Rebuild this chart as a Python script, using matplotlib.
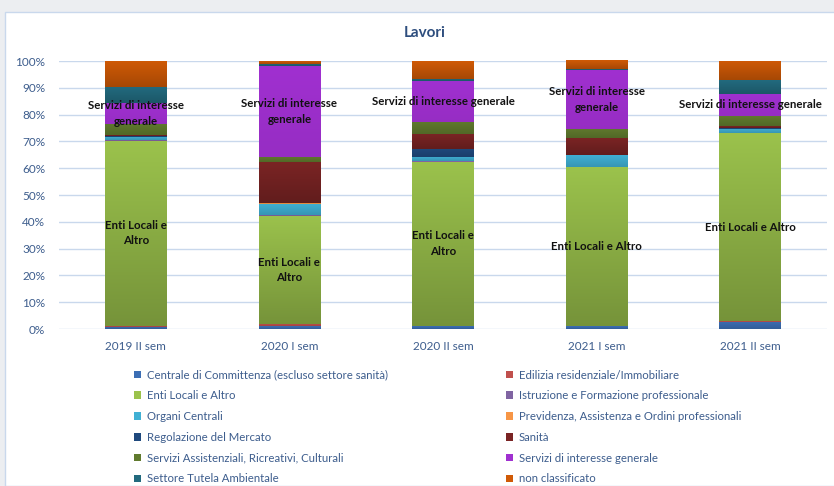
import numpy as np
import matplotlib
matplotlib.use("Agg")
import matplotlib.pyplot as plt
from matplotlib.patches import Patch, Rectangle
from matplotlib.colors import to_rgb

plt.rcParams["font.family"] = ["Lato", "DejaVu Sans"]

periods = ["2019 II sem", "2020 I sem", "2020 II sem", "2021 I sem", "2021 II sem"]

series = [
    "Centrale di Committenza (escluso settore sanità)",
    "Edilizia residenziale/Immobiliare",
    "Enti Locali e Altro",
    "Istruzione e Formazione professionale",
    "Organi Centrali",
    "Previdenza, Assistenza e Ordini professionali",
    "Regolazione del Mercato",
    "Sanità",
    "Servizi Assistenziali, Ricreativi, Culturali",
    "Servizi di interesse generale",
    "Settore Tutela Ambientale",
    "non classificato",
]

# share (%) of each sector per semester
centrale = [0.8, 1.1, 1.1, 1.0, 2.7]
edilizia = [0.5, 0.8, 0.1, 0.1, 0.1]
enti = [69.0, 40.4, 61.3, 59.3, 70.3]
istruzione = [0.1, 0.1, 0.1, 0.1, 0.1]
organi = [1.3, 4.4, 1.5, 4.3, 1.5]
previdenza = [0.1, 0.1, 0.1, 0.1, 0.1]
regolazione = [0.4, 0.1, 3.1, 0.1, 0.3]
sanita = [0.1, 15.2, 5.4, 6.3, 0.7]
serv_assist = [4.3, 2.0, 4.6, 3.4, 3.6]
serv_interesse = [7.8, 33.9, 15.2, 21.8, 8.4]
tutela = [5.8, 0.9, 0.9, 0.5, 5.0]
non_class = [9.8, 1.0, 6.6, 3.3, 7.2]

colors = [
    "#3C6EB4", "#C0504D", "#9BC24C", "#8064A2", "#40B0D4", "#F79646",
    "#1F497D", "#7A2424", "#607A2E", "#A030D0", "#226A7E", "#D05A06",
]
# how much darker the bottom of each segment gets
darken = [0.85, 0.85, 0.76, 0.85, 0.85, 0.85,
          0.85, 0.8, 0.85, 0.94, 0.82, 0.8]

values = np.array([centrale, edilizia, enti, istruzione, organi, previdenza,
                   regolazione, sanita, serv_assist, serv_interesse, tutela,
                   non_class]) / 100.0

segment_labels = {
    2: ["Enti Locali e\nAltro", "Enti Locali e\nAltro", "Enti Locali e\nAltro",
        "Enti Locali e Altro", "Enti Locali e Altro"],
    9: ["Servizi di interesse\ngenerale", "Servizi di interesse\ngenerale",
        "Servizi di interesse generale", "Servizi di interesse\ngenerale",
        "Servizi di interesse generale"],
}

text_blue = "#3D5D8D"
grid_blue = "#C9D8EC"

fig = plt.figure(figsize=(8.34, 4.86), dpi=100, facecolor="#ECEEF1")
# white chart panel with thin border
fig.patches.append(Rectangle((5 / 834, 0), 1, 1 - 12 / 486,
                             transform=fig.transFigure, facecolor="white",
                             edgecolor="#C9D8EC", linewidth=1.0, zorder=-10))

ax = fig.add_axes([59 / 834, 1 - 329 / 486, 768 / 834, 268 / 486])
ax.set_facecolor("none")

x = np.arange(len(periods))
width = 0.40
bottom = np.zeros(len(periods))

for i, name in enumerate(series):
    bars = ax.bar(x, values[i], width, bottom=bottom, color=colors[i],
                  label=name, zorder=2, linewidth=0)
    # vertical gradient, lighter at the top of each segment
    top_c = np.array(to_rgb(colors[i]))
    bot_c = top_c * darken[i]
    t = np.linspace(0, 1, 64)[:, None]
    grad = (bot_c[None, :] * (1 - t) + top_c[None, :] * t)[:, None, :]
    for rect in bars:
        h = rect.get_height()
        if h <= 0:
            continue
        x0 = rect.get_x()
        y0 = rect.get_y()
        im = ax.imshow(grad, extent=(x0, x0 + rect.get_width(), y0, y0 + h),
                       origin="lower", aspect="auto", zorder=3,
                       interpolation="bilinear")
        im.set_clip_path(rect)
    if i in segment_labels:
        for j, rect in enumerate(bars):
            cy = rect.get_y() + rect.get_height() / 2
            ax.text(x[j], cy, segment_labels[i][j], ha="center", va="center",
                    fontsize=8.3, fontweight="bold", color="#111111",
                    zorder=5, linespacing=1.5)
    bottom += values[i]

ax.set_xlim(-0.5, len(periods) - 0.5)
ax.set_ylim(0, 1)
ticks = np.arange(0, 1.01, 0.1)
ax.set_yticks(ticks)
ax.set_yticklabels([f"{int(round(v * 100))}%" for v in ticks])
ax.set_xticks(x)
ax.set_xticklabels(periods)
ax.tick_params(axis="both", length=0, colors=text_blue, labelsize=8.5)
ax.tick_params(axis="y", pad=10)
ax.tick_params(axis="x", pad=9)
ax.grid(axis="y", color=grid_blue, linewidth=1.0, zorder=0)
for s in ax.spines.values():
    s.set_visible(False)

fig.text(425 / 834, 1 - 33 / 486, "Lavori", ha="center", va="center",
         fontsize=11, fontweight="bold", color="#2E4E7E")

handles = [Patch(facecolor=c, edgecolor="none") for c in colors]
legend_kw = dict(frameon=False, fontsize=8.2, labelcolor=text_blue,
                 handlelength=0.65, handleheight=0.65, handletextpad=0.45,
                 labelspacing=0.86, borderpad=0, borderaxespad=0)
fig.legend(handles[0::2], series[0::2], loc="upper left",
           bbox_to_anchor=(134 / 834, 1 - 369.5 / 486), **legend_kw)
fig.legend(handles[1::2], series[1::2], loc="upper left",
           bbox_to_anchor=(506 / 834, 1 - 369.5 / 486), **legend_kw)

fig.savefig("out.png", dpi=100, facecolor=fig.get_facecolor())
